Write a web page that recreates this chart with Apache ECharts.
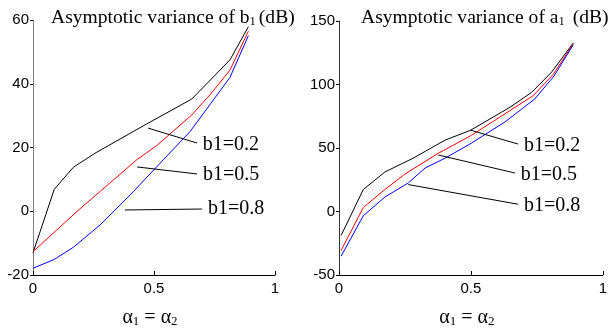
<!DOCTYPE html>
<html>
<head>
<meta charset="utf-8">
<script src="https://cdn.jsdelivr.net/npm/echarts@6/dist/echarts.min.js"></script>
<style>
  html, body { margin: 0; padding: 0; background: #fff; }
  #chart { width: 610px; height: 333px; }
</style>
</head>
<body>
<div id="chart"></div>
<script>
// left panel: asymptotic variance of b1 (dB)
const bAlpha02 = [0, 0.088, 0.167, 0.256, 0.47, 0.656, 0.814, 0.89];
const bVar02 = [-13.0, 6.9, 13.8, 18.2, 27.4, 35.2, 47.5, 57.9];
const bAlpha05 = [0, 0.181, 0.428, 0.511, 0.656, 0.731, 0.814, 0.89];
const bVar05 = [-12.7, -0.1, 16.1, 20.6, 30.2, 36.5, 44.3, 56.5];
const bAlpha08 = [0, 0.088, 0.167, 0.277, 0.414, 0.538, 0.649, 0.814, 0.89];
const bVar08 = [-17.9, -15.1, -11.3, -4.3, 6.1, 16.1, 25.0, 42.0, 55.1];

// right panel: asymptotic variance of a1 (dB)
const aAlpha02 = [0.008, 0.092, 0.174, 0.281, 0.402, 0.499, 0.648, 0.73, 0.806, 0.888];
const aVar02 = [-18.9, 17.3, 31.1, 42.0, 56.2, 64.0, 82.1, 93.8, 109.8, 132.7];
const aAlpha05 = [0.008, 0.092, 0.174, 0.25, 0.376, 0.503, 0.736, 0.812, 0.888];
const aVar05 = [-30.6, 3.1, 17.3, 29.5, 45.8, 60.1, 91.2, 108.0, 132.1];
const aAlpha08 = [0.008, 0.092, 0.174, 0.2625, 0.326, 0.402, 0.496, 0.629, 0.742, 0.815, 0.888];
const aVar08 = [-35.2, -3.4, 11.4, 22.5, 34.2, 42.0, 53.1, 70.5, 88.6, 106.7, 131.3];

const seriesNames = ['b1=0.2', 'b1=0.5', 'b1=0.8'];
const lineColors = ['#000000', '#ff0000', '#0000ff'];

// leader lines for the labels, [from, to] in data coords
const bLeaders = [[[0.475, 26.1], [0.678, 21.4]], [[0.43, 13.9], [0.678, 11.7]], [[0.38, 0.4], [0.698, 0.7]]];
const aLeaders = [[[0.499, 64], [0.679, 53.1]], [[0.376, 44.5], [0.667, 30.3]], [[0.2625, 21.2], [0.679, 5.7]]];

const xTicks = { min: 0, max: 1, interval: 0.5 };
const bTicks = { min: -20, max: 60, interval: 20 };
const aTicks = { min: -50, max: 150, interval: 50 };

const serif = 'Liberation Serif';
const sans = 'Liberation Sans';

const zip = (xs, ys) => xs.map((x, i) => [x, ys[i]]);

function makeSeries(idx, xs, ys, leader) {
  return {
    name: seriesNames[idx % 3] + '_' + idx,
    type: 'line',
    xAxisIndex: idx >= 3 ? 1 : 0,
    yAxisIndex: idx >= 3 ? 1 : 0,
    data: zip(xs, ys),
    symbol: 'none',
    silent: true,
    animation: false,
    lineStyle: { color: lineColors[idx % 3], width: 1 },
    markLine: {
      silent: true,
      animation: false,
      symbol: 'none',
      lineStyle: { color: '#000', width: 1, type: 'solid' },
      label: {
        show: true,
        position: 'end',
        distance: 6,
        formatter: seriesNames[idx % 3],
        color: '#000',
        fontFamily: serif,
        fontSize: 20
      },
      data: [[{ coord: leader[0] }, { coord: leader[1] }]]
    }
  };
}

const xName = '{a|α}{s|1}{a| = α}{s|2}';
const nameRich = {
  a: { fontFamily: serif, fontSize: 20, color: '#000' },
  s: { fontFamily: serif, fontSize: 13, color: '#000', padding: [8, 0, 0, 0] }
};

function xAxisCfg(gridIndex) {
  return {
    type: 'value', gridIndex, ...xTicks,
    name: xName, nameLocation: 'middle', nameGap: 32,
    nameTextStyle: { rich: nameRich, padding: [0, 8, 0, 0] },
    axisLine: { onZero: false, lineStyle: { color: '#000', width: 1 } },
    axisTick: { inside: true, length: 4, lineStyle: { color: '#000' } },
    axisLabel: { color: '#000', fontFamily: sans, fontSize: 15, margin: 6, formatter: v => String(v) },
    splitLine: { show: false }
  };
}

function yAxisCfg(gridIndex, ticks, lineColor) {
  return {
    type: 'value', gridIndex, ...ticks,
    axisLine: { show: true, onZero: false, lineStyle: { color: lineColor, width: 1 } },
    axisTick: { show: true, length: 3, lineStyle: { color: '#000' } },
    axisLabel: { color: '#000', fontFamily: sans, fontSize: 15, margin: 4 },
    splitLine: { show: false }
  };
}

const titleRich = { s: { fontFamily: serif, fontSize: 12.5, color: '#000', padding: [8, 3, 0, 0] } };

const chart = echarts.init(document.getElementById('chart'));
chart.setOption({
  backgroundColor: '#fff',
  animation: false,
  title: [
    {
      text: 'Asymptotic variance of b{s|1}(dB)', left: 46, top: 2,
      textStyle: { fontFamily: serif, fontSize: 19.6, fontWeight: 'normal', color: '#000', rich: titleRich }
    },
    {
      text: 'Asymptotic variance of a{s|1} (dB)', left: 356, top: 2,
      textStyle: { fontFamily: serif, fontSize: 19.6, fontWeight: 'normal', color: '#000', rich: titleRich }
    }
  ],
  grid: [
    { left: 33, right: 335, top: 20, bottom: 58 },
    { left: 339, right: 7, top: 21, bottom: 55 }
  ],
  xAxis: [xAxisCfg(0), xAxisCfg(1)],
  yAxis: [yAxisCfg(0, bTicks, '#808080'), yAxisCfg(1, aTicks, '#333')],
  series: [
    makeSeries(0, bAlpha02, bVar02, bLeaders[0]),
    makeSeries(1, bAlpha05, bVar05, bLeaders[1]),
    makeSeries(2, bAlpha08, bVar08, bLeaders[2]),
    makeSeries(3, aAlpha02, aVar02, aLeaders[0]),
    makeSeries(4, aAlpha05, aVar05, aLeaders[1]),
    makeSeries(5, aAlpha08, aVar08, aLeaders[2])
  ]
});
</script>
</body>
</html>
